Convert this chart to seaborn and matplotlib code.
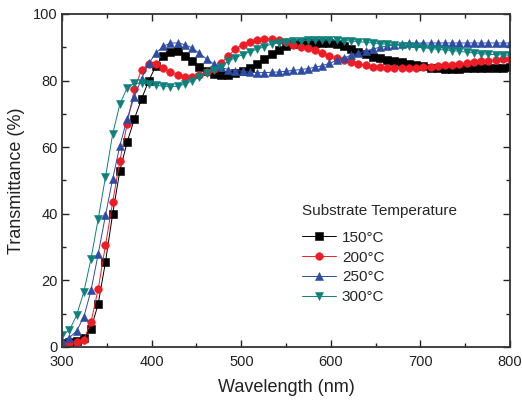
import numpy as np
import pandas as pd
import matplotlib
matplotlib.use("Agg")
import matplotlib.pyplot as plt
import seaborn as sns
from matplotlib.ticker import MultipleLocator

# wavelength grid (nm), ~8 nm spacing from 300 to 800
wavelength = np.linspace(300, 800, 63)

t150 = [1.3, 1.5, 1.8, 2.8, 5.5, 13.0, 25.5, 40.0, 53.0, 61.5,
        68.5, 74.5, 80.0, 84.5, 87.5, 88.6, 88.8, 87.5, 85.8, 84.2,
        82.8, 82.1, 81.8, 81.8, 82.2, 82.8, 83.8, 85.0, 86.5, 88.0,
        89.3, 90.4, 91.0, 91.2, 91.3, 91.4, 91.4, 91.2, 90.9, 90.4,
        89.6, 88.7, 87.9, 87.2, 86.7, 86.3, 85.9, 85.5, 85.1, 84.6,
        84.3, 83.9, 83.7, 83.6, 83.6, 83.6, 83.7, 83.7, 83.8, 83.8,
        83.9, 83.9, 84.0]

t200 = [1.0, 1.3, 1.5, 2.2, 7.5, 17.5, 30.5, 43.5, 56.0, 67.0,
        77.5, 83.3, 85.0, 85.0, 83.8, 82.5, 81.6, 81.2, 81.2, 81.7,
        82.6, 83.5, 85.2, 87.5, 89.5, 90.8, 91.7, 92.3, 92.6, 92.6,
        92.2, 91.5, 90.8, 90.2, 89.7, 89.1, 88.2, 87.4, 86.8, 86.1,
        85.5, 85.0, 84.6, 84.2, 84.0, 83.9, 83.9, 83.9, 83.9, 83.9,
        84.0, 84.1, 84.4, 84.6, 84.8, 85.1, 85.3, 85.6, 85.8, 86.0,
        86.2, 86.4, 86.6]

t250 = [1.8, 2.8, 4.8, 9.0, 17.0, 28.0, 39.5, 50.5, 60.5, 68.5,
        75.2, 80.6, 85.2, 88.3, 90.3, 91.3, 91.3, 90.8, 89.8, 88.2,
        86.5, 85.0, 84.0, 83.3, 83.0, 82.8, 82.5, 82.4, 82.4, 82.5,
        82.6, 82.8, 83.1, 83.3, 83.6, 84.0, 84.5, 85.2, 86.1, 86.8,
        87.6, 88.2, 88.9, 89.5, 90.0, 90.4, 90.7, 91.0, 91.2, 91.3,
        91.3, 91.3, 91.3, 91.3, 91.3, 91.3, 91.3, 91.3, 91.3, 91.3,
        91.3, 91.3, 91.3]

t300 = [3.5, 5.0, 9.5, 16.5, 26.5, 38.5, 51.0, 64.0, 73.0, 77.8,
        79.2, 79.2, 79.0, 78.6, 78.3, 78.2, 78.3, 79.0, 79.9, 81.0,
        82.2, 83.2, 84.2, 85.8, 86.9, 87.8, 88.7, 89.4, 90.2, 91.0,
        91.3, 91.6, 91.9, 92.0, 92.1, 92.2, 92.2, 92.2, 92.1, 92.0,
        91.9, 91.7, 91.5, 91.3, 91.1, 90.9, 90.7, 90.5, 90.3, 90.1,
        89.9, 89.6, 89.4, 89.2, 89.0, 88.8, 88.5, 88.3, 88.1, 87.9,
        87.8, 87.7, 87.6]

labels = ["150°C", "200°C", "250°C", "300°C"]
colors = ["#000000", "#EE1C25", "#2E4CA3", "#0E817C"]
markers = ["s", "o", "^", "v"]

frames = []
for lab, vals in zip(labels, [t150, t200, t250, t300]):
    frames.append(pd.DataFrame({"Wavelength": wavelength,
                                "Transmittance": vals,
                                "Temperature": lab}))
df = pd.concat(frames, ignore_index=True)

sns.set_style("ticks")
plt.rcParams["font.family"] = ["Liberation Sans", "DejaVu Sans"]

fig = plt.figure(figsize=(5.22, 4.0), dpi=100)
ax = fig.add_axes([0.119, 0.1325, 0.858, 0.8325])

sns.lineplot(data=df, x="Wavelength", y="Transmittance", hue="Temperature",
             style="Temperature", palette=colors, markers=markers,
             dashes=False, markersize=5.5, linewidth=0.7, legend=False, ax=ax)

for line in ax.get_lines():
    line.set_markeredgecolor(line.get_color())
    line.set_markeredgewidth(0.4)

ax.set_xlim(300, 800)
ax.set_ylim(0, 100)
ax.xaxis.set_major_locator(MultipleLocator(100))
ax.xaxis.set_minor_locator(MultipleLocator(50))
ax.yaxis.set_major_locator(MultipleLocator(20))
ax.yaxis.set_minor_locator(MultipleLocator(10))
ax.tick_params(which="both", direction="in", top=True, right=True,
               width=1.0, colors="#222222", labelcolor="#222222")
ax.tick_params(which="major", length=5, labelsize=10.5)
ax.tick_params(axis="x", which="major", pad=6)
ax.tick_params(axis="y", which="major", pad=3)
ax.tick_params(which="minor", length=3)
for sp in ax.spines.values():
    sp.set_linewidth(1.3)
    sp.set_color("#333333")

ax.set_xlabel("Wavelength (nm)", fontsize=13, color="#222222", labelpad=7)
ax.set_ylabel("Transmittance (%)", fontsize=13, color="#222222", labelpad=6)

handles = ax.get_lines()[:4]
leg = ax.legend(handles, labels, title="Substrate Temperature", frameon=False,
                loc="upper left", bbox_to_anchor=(0.505, 0.47), fontsize=11,
                title_fontsize=11, handlelength=2.2, handletextpad=0.4,
                labelspacing=0.38, alignment="left")
# a little more room under the legend title
leg._legend_box.sep = 9

fig.savefig("out.png", dpi=100)
